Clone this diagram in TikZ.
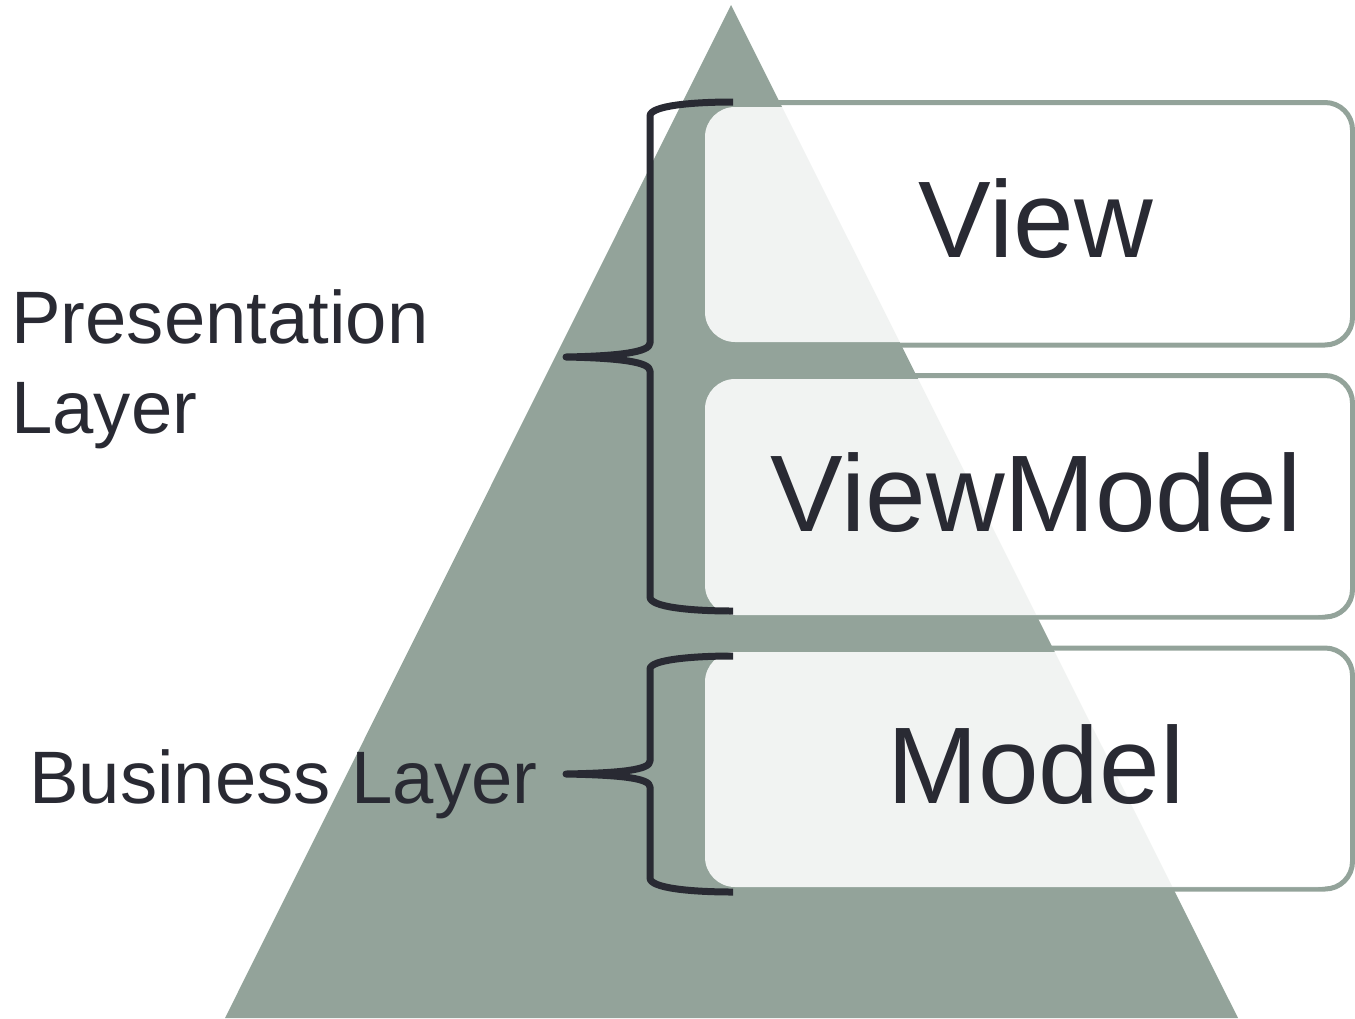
\documentclass[tikz,border=0pt]{standalone}
\usepackage{xcolor}
\usepackage{fontspec}
\setmainfont{Liberation Sans}
\usepackage{tikz}
\usetikzlibrary{positioning}

\definecolor{pyrgreen}{RGB}{147,163,154}
\definecolor{inkdark}{RGB}{41,42,51}

\begin{document}
\begin{tikzpicture}[x=0.02cm, y=-0.02cm,
    every node/.style={inner sep=0pt, text=inkdark},
    frame/.style={draw=pyrgreen, line width=0.1cm, rounded corners=0.55cm},
    cover/.style={fill=white, fill opacity=0.88, rounded corners=0.6cm},
    title/.style={font=\fontsize{62}{62}\selectfont, anchor=base},
    side/.style={font=\fontsize{42.3}{51.2}\selectfont, align=left, anchor=base west},
    bracket/.style={draw=inkdark, line width=0.14cm, line join=round}]
\useasboundingbox (0,0) rectangle (1355,1018);

% pyramid
\fill[pyrgreen] (731,5) -- (225,1018) -- (1238,1018) -- cycle;

% layer boxes
\draw[frame] (712,102.5) rectangle (1352.5,345);
\draw[frame] (712,375.5) rectangle (1352.5,617);
\draw[frame] (712,648) rectangle (1352.5,889);
\fill[cover] (705,107) rectangle (1348,342);
\fill[cover] (705,379) rectangle (1348,615);
\fill[cover] (705,652) rectangle (1348,887);

\node[title] (view) at (1036,257) {View};
\node[title] (viewmodel) at (1036,531) {ViewModel};
\node[title] (model) at (1036,803) {Model};

% braces
\draw[bracket] (733,102) .. controls (690,102) and (650,106) .. (650,116)
  -- (650,343) .. controls (650,352) and (620,356) .. (566,357)
  .. controls (620,358) and (650,362) .. (650,371)
  -- (650,597) .. controls (650,607) and (690,611) .. (733,611);
\draw[bracket] (733,656) .. controls (690,656) and (650,660) .. (650,669)
  -- (650,761) .. controls (650,770) and (620,773) .. (566,774)
  .. controls (620,775) and (650,778) .. (650,787)
  -- (650,878) .. controls (650,888) and (690,892) .. (733,892);

\node[side] (presentation) at (11,433) {Presentation\\Layer};
\node[side] (business) at (29,803) {Business Layer};
\end{tikzpicture}
\end{document}
